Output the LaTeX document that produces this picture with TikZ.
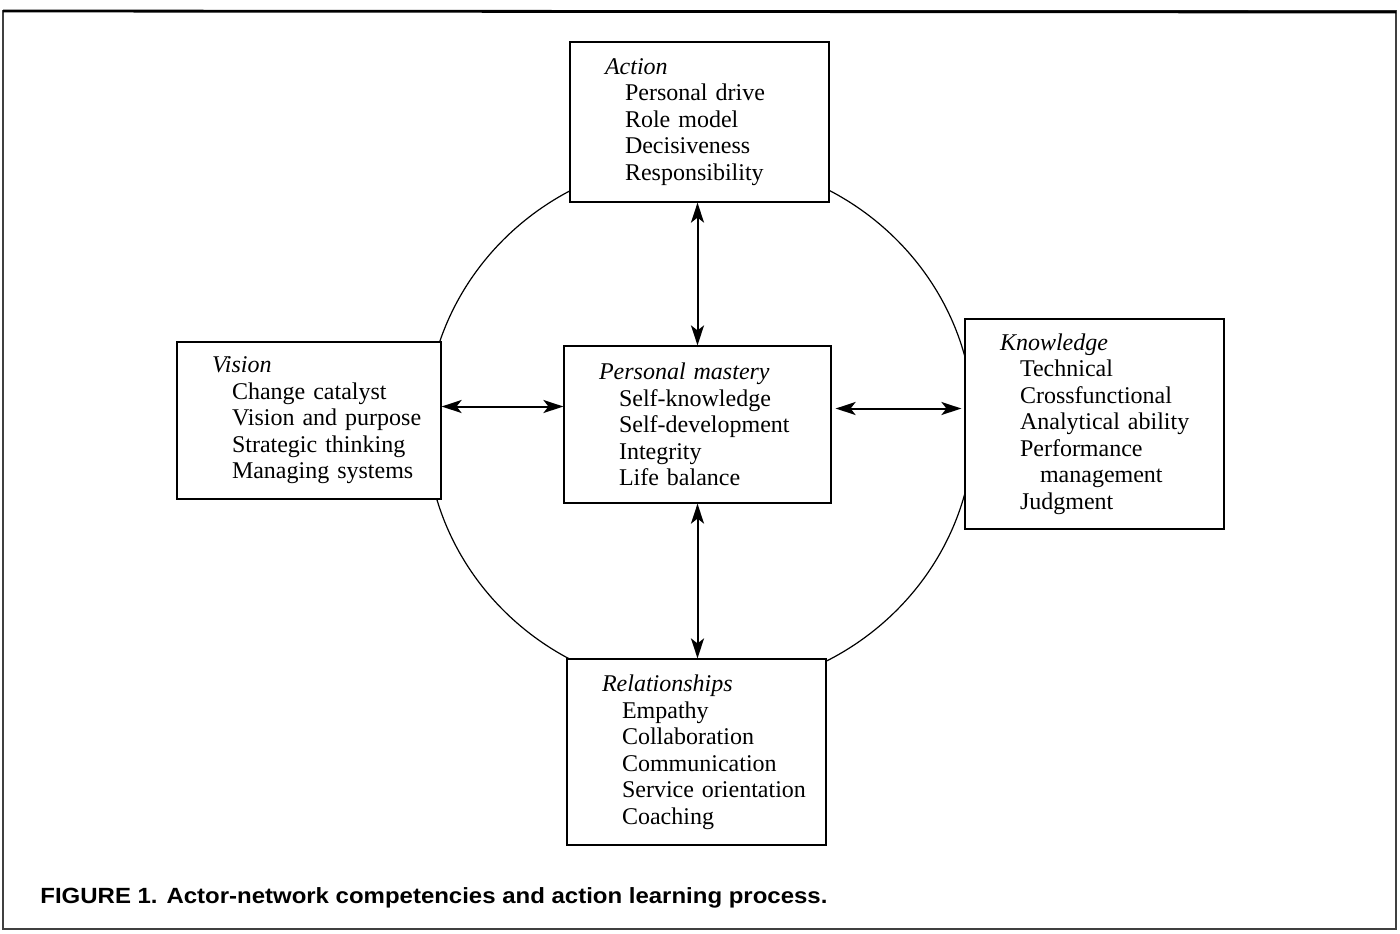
\documentclass[tikz,border=0pt]{standalone}
\usepackage{fontspec}
\setmainfont{Liberation Serif}
\setsansfont{Liberation Sans}
\usepackage{graphicx}
\usepackage{tikz}
\usetikzlibrary{arrows.meta,calc,positioning}

% heading and item lines inside the boxes
\newcommand{\ttl}[1]{\hspace*{17.5pt}\textit{#1}}
\newcommand{\ind}{\hspace*{27.5pt}}

\tikzset{
  compbox/.style={draw, fill=white, line width=0.6pt, align=left,
    inner xsep=0pt, inner ysep=0pt,
    font=\fontsize{12}{13.25}\selectfont},
  link/.style={<->, line width=1pt,
    >={Stealth[length=10pt,width=6.5pt,inset=2.5pt]}},
}

\begin{document}
\begin{tikzpicture}[x=0.5pt,y=-0.5pt]
  \useasboundingbox (0,0) rectangle (1400,933);
  % outer frame
  \draw[line width=0.7pt, black!75] (3,11) rectangle (1396,929);
  \draw[line width=1.4pt] (3,11) -- (1396,12);
  % ring behind the boxes
  \draw[line width=0.6pt] (700,425) ellipse [x radius=137pt, y radius=133pt];

  \node[compbox, text width=129.5pt, minimum height=80pt] (action) at (699.5,122)
    {\ttl{Action}\\ \ind Personal drive\\ \ind Role model\\
     \ind Decisiveness\\ \ind Responsibility};
  \node[compbox, text width=132pt, minimum height=78.5pt] (vision) at (309,420.5)
    {\ttl{Vision}\\ \ind Change catalyst\\ \ind Vision and purpose\\
     \ind Strategic thinking\\ \ind Managing systems};
  \node[compbox, text width=133.5pt, minimum height=78.5pt] (mastery) at (697.5,424.5)
    {\ttl{Personal mastery}\\ \ind Self-knowledge\\ \ind Self-development\\
     \ind Integrity\\ \ind Life balance};
  \node[compbox, text width=129.5pt, minimum height=105pt] (know) at (1094.5,424)
    {\ttl{Knowledge}\\ \ind Technical\\ \ind Crossfunctional\\
     \ind Analytical ability\\ \ind Performance\\ \ind\hspace*{10pt}management\\ \ind Judgment};
  \node[compbox, text width=129.5pt, minimum height=93pt] (relations) at (696.5,752)
    {\ttl{Relationships}\\ \ind Empathy\\ \ind Collaboration\\
     \ind Communication\\ \ind Service orientation\\ \ind Coaching};

  % links to the centre
  \draw[link] (mastery.north) -- (mastery.north |- action.south);
  \draw[link] (mastery.south) -- (mastery.south |- relations.north);
  \draw[link] ([yshift=7pt]vision.east) -- ([yshift=7pt]vision.east -| mastery.west);
  \draw[link] ([yshift=8pt,xshift=2pt]mastery.east) -- ([yshift=8pt,xshift=-1.5pt]mastery.east -| know.west);

  \node[anchor=base west, inner sep=0pt, font=\sffamily\bfseries\fontsize{11}{13}\selectfont] (caption) at (40,903)
    {\scalebox{1.09}[1]{FIGURE 1. Actor-network competencies and action learning process.}};
\end{tikzpicture}
\end{document}
